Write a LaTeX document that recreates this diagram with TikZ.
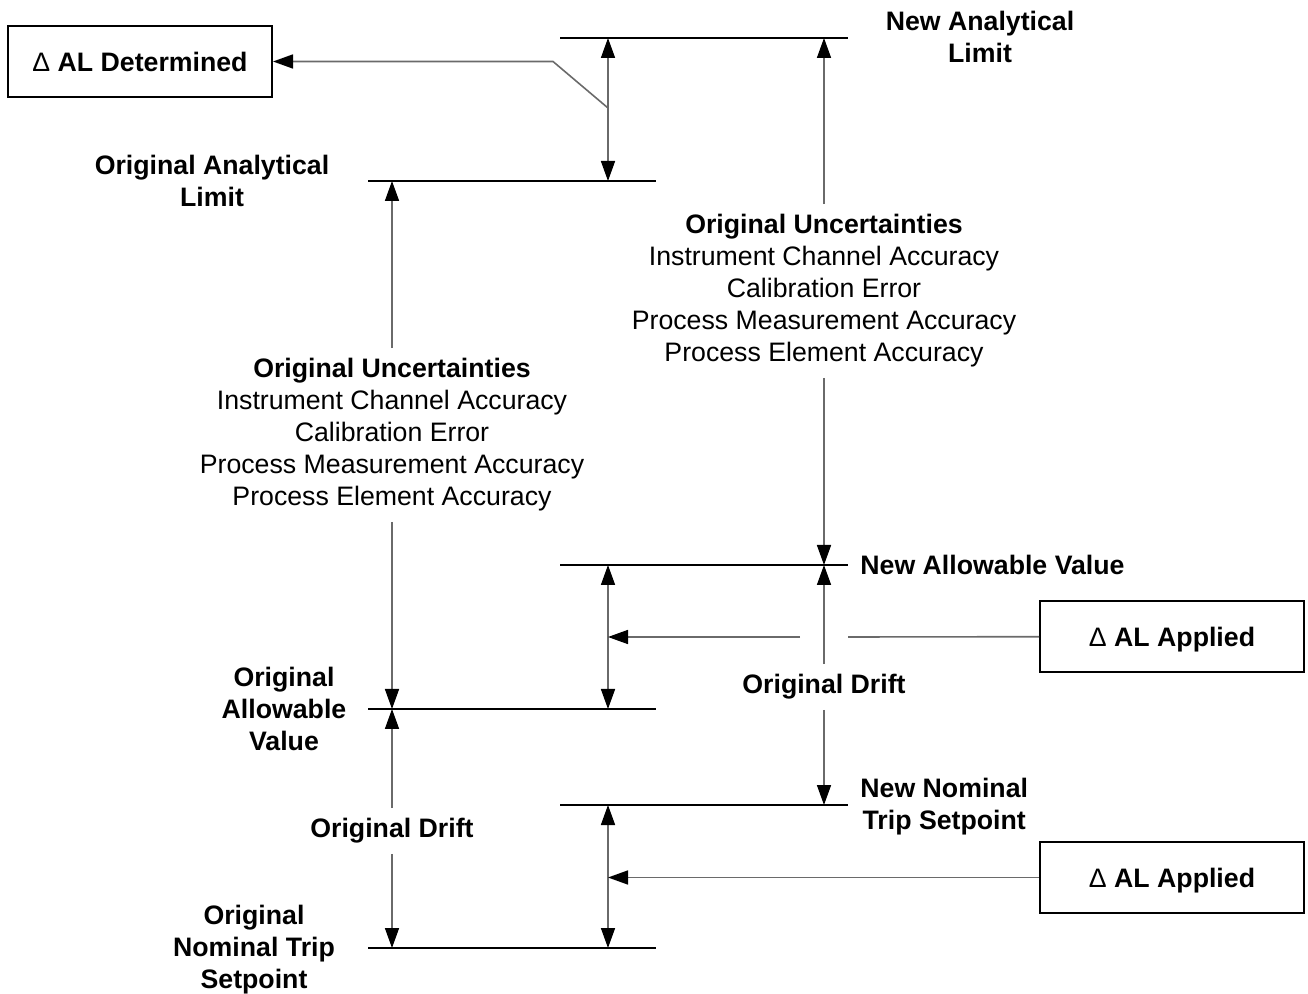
\documentclass[tikz,border=0pt]{standalone}
\usepackage{fontspec}
\setmainfont{Liberation Sans}
\usetikzlibrary{arrows.meta}
\definecolor{shaft}{HTML}{6A6A6A}
\newcommand\diagfont{\fontsize{13.35pt}{16pt}\selectfont}
\tikzset{
  level/.style={line width=1pt, draw=black},
  dimline/.style={line width=0.8pt, draw=shaft, >={Triangle[length=10pt,width=7pt,black]}},
  lab/.style={font=\diagfont\bfseries, align=center, inner sep=0pt},
  unc/.style={font=\diagfont, align=center, inner sep=5pt},
  drift/.style={font=\diagfont\bfseries, inner sep=5pt},
  deltabox/.style={draw, line width=1pt, minimum width=132pt, minimum height=35.5pt,
    text height=9.6pt, text depth=0pt, font=\diagfont\bfseries}
}

\begin{document}
\begin{tikzpicture}[x=0.5pt,y=-0.5pt]
\useasboundingbox (0,0) rectangle (1308,994);

% setpoint levels
\draw[level] (560,38) -- (848,38);
\draw[level] (368,181) -- (656,181);
\draw[level] (560,565) -- (848,565);
\draw[level] (368,709) -- (656,709);
\draw[level] (560,805) -- (848,805);
\draw[level] (368,948) -- (656,948);

% points where the arrows meet the levels
\coordinate (nalA) at (608,38);  \coordinate (nalB) at (824,38);
\coordinate (oalA) at (392,181); \coordinate (oalB) at (608,181);
\coordinate (navA) at (608,565); \coordinate (navB) at (824,565);
\coordinate (oavA) at (392,709); \coordinate (oavB) at (608,709);
\coordinate (nntA) at (608,805); \coordinate (nntB) at (824,805);
\coordinate (ontA) at (392,948); \coordinate (ontB) at (608,948);

% level labels
\node[lab] (nal) at (980,37) {New Analytical\\Limit};
\node[lab] (oal) at (212,181) {Original Analytical\\Limit};
\node[lab,anchor=west] (nav) at (860,565) {New Allowable Value};
\node[lab] (oav) at (284,709) {Original\\Allowable\\Value};
\node[lab,anchor=west] (nnt) at (860,807) {New Nominal\\Trip Setpoint};
\node[lab] (ont) at (254,950) {Original\\Nominal Trip\\Setpoint};

% uncertainty blocks
\node[unc] (uncNew) at (824,291) {\textbf{Original Uncertainties}\\Instrument Channel Accuracy\\Calibration Error\\Process Measurement Accuracy\\Process Element Accuracy};
\node[unc] (uncOld) at (392,435) {\textbf{Original Uncertainties}\\Instrument Channel Accuracy\\Calibration Error\\Process Measurement Accuracy\\Process Element Accuracy};
\node[drift] (driftNew) at (824,687) {Original Drift};
\node[drift] (driftOld) at (392,831) {Original Drift};

% delta AL boxes
\node[deltabox] (det) at (140,61.5) {\textmd{Δ} AL Determined};
\node[deltabox] (appA) at (1172,636.5) {\textmd{Δ} AL Applied};
\node[deltabox] (appB) at (1172,877.5) {\textmd{Δ} AL Applied};

% dimension arrows
\draw[dimline,<->] (nalA) -- (oalB);
\draw[dimline,->] (uncNew) -- (nalB);
\draw[dimline,->] (uncNew) -- (navB);
\draw[dimline,->] (uncOld) -- (oalA);
\draw[dimline,->] (uncOld) -- (oavA);
\draw[dimline,<->] (navA) -- (oavB);
\draw[dimline,->] (driftNew) -- (navB);
\draw[dimline,->] (driftNew) -- (nntB);
\draw[dimline,->] (driftOld) -- (oavA);
\draw[dimline,->] (driftOld) -- (ontA);
\draw[dimline,<->] (nntA) -- (ontB);

% leaders to and from the boxes
\coordinate (kink) at (553,61.5);
\coordinate (tap) at (608,108);
\draw[dimline,<-] (det) -- (kink) -- (tap);
\coordinate (gapR) at (848,637);
\coordinate (gapL) at (800,637);
\coordinate (hitA) at (608,637);
\coordinate (hitB) at (608,877.5);
\draw[dimline] (appA) -- (gapR);
\draw[dimline,->] (gapL) -- (hitA);
\draw[dimline,->] (appB) -- (hitB);
\end{tikzpicture}
\end{document}
